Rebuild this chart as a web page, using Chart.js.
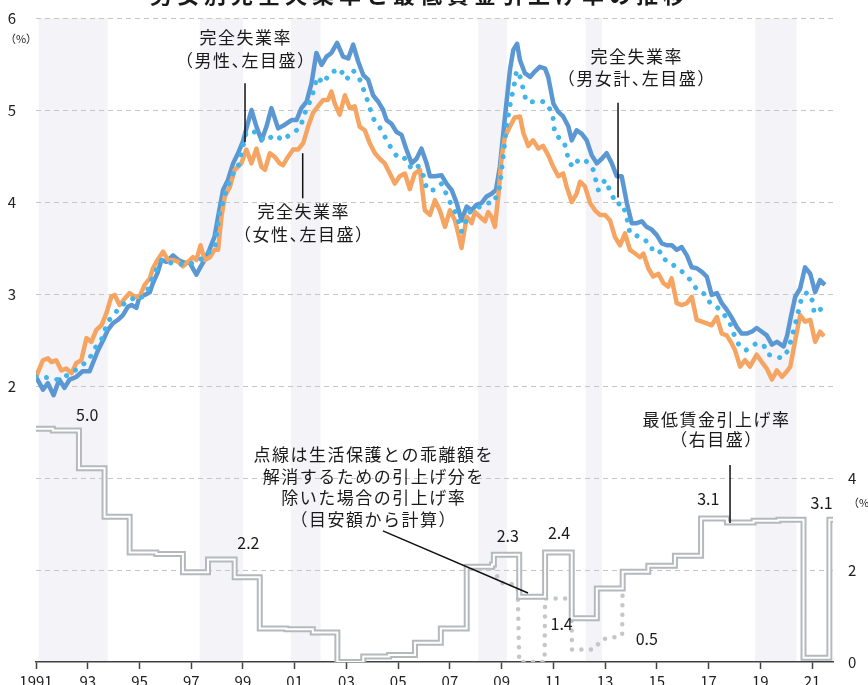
<!DOCTYPE html>
<html>
<head>
<meta charset="utf-8">
<script src="https://cdn.jsdelivr.net/npm/chart.js@4.4.0/dist/chart.umd.min.js"></script>
<style>
  html, body { margin: 0; padding: 0; background: #fff; }
</style>
</head>
<body>
<canvas id="myChart" width="868" height="685"></canvas>
<script>
// x axis ticks (odd years)
const tickYears = [1991, 1993, 1995, 1997, 1999, 2001, 2003, 2005, 2007, 2009, 2011, 2013, 2015, 2017, 2019, 2021];
const tickLabels = ['1991', '93', '95', '97', '99', '01', '03', '05', '07', '09', '11', '13', '15', '17', '19', '21'];
const leftTicks = [-1, 0, 1, 2, 3, 4, 5, 6];
const rightTicks = [0, 2, 4];

// 景気後退期 (start, end)
const recessions = [[1991.1, 1993.77], [1997.33, 1999.0], [2000.85, 2002.0], [2008.1, 2009.2], [2012.25, 2012.88], [2018.8, 2020.4]];

// 完全失業率 男性 [year, %]
const maleRate = [
  [1991.0,2.10],[1991.27,1.96],[1991.46,2.03],[1991.68,1.90],[1991.9,2.07],[1992.1,1.98],[1992.3,2.07],[1992.56,2.10],[1992.8,2.16],[1993.07,2.16],
  [1993.2,2.25],[1993.4,2.39],[1993.6,2.50],[1993.78,2.61],[1993.97,2.68],[1994.17,2.72],[1994.36,2.77],[1994.55,2.86],[1994.69,2.88],[1994.88,2.85],
  [1995.0,2.97],[1995.2,2.99],[1995.4,3.02],[1995.52,3.12],[1995.7,3.23],[1995.85,3.37],[1996.04,3.35],[1996.3,3.42],[1996.5,3.37],[1996.75,3.34],
  [1996.94,3.34],[1997.2,3.21],[1997.33,3.28],[1997.52,3.37],[1997.7,3.48],[1997.9,3.62],[1998.04,3.84],[1998.23,4.13],[1998.42,4.24],[1998.62,4.42],
  [1998.81,4.53],[1999.0,4.66],[1999.33,5.00],[1999.52,4.82],[1999.72,4.67],[1999.91,4.82],[2000.1,5.02],[2000.36,4.80],[2000.62,4.84],[2000.88,4.89],
  [2001.07,4.89],[2001.26,5.02],[2001.46,5.09],[2001.65,5.29],[2001.84,5.62],[2002.04,5.49],[2002.23,5.58],[2002.42,5.62],[2002.64,5.73],[2002.87,5.58],
  [2003.07,5.56],[2003.26,5.71],[2003.45,5.53],[2003.65,5.38],[2003.84,5.33],[2004.03,5.16],[2004.23,5.09],[2004.42,5.00],[2004.55,4.89],[2004.74,4.85],
  [2004.94,4.76],[2005.13,4.73],[2005.32,4.57],[2005.52,4.42],[2005.71,4.47],[2005.9,4.58],[2006.1,4.42],[2006.23,4.28],[2006.42,4.28],[2006.68,4.29],
  [2006.87,4.20],[2007.07,4.13],[2007.26,3.99],[2007.45,3.80],[2007.65,3.95],[2007.84,3.91],[2008.03,3.97],[2008.23,3.99],[2008.42,4.06],[2008.61,4.09],
  [2008.78,4.13],[2008.93,4.38],[2009.13,4.93],[2009.32,5.43],[2009.45,5.65],[2009.6,5.72],[2009.71,5.54],[2009.9,5.40],[2010.1,5.36],[2010.29,5.42],
  [2010.48,5.47],[2010.68,5.45],[2010.8,5.36],[2011.0,5.07],[2011.19,4.98],[2011.38,4.93],[2011.58,4.82],[2011.71,4.67],[2011.9,4.78],[2012.1,4.74],
  [2012.29,4.67],[2012.48,4.51],[2012.68,4.42],[2012.87,4.47],[2013.06,4.53],[2013.26,4.42],[2013.45,4.28],[2013.64,4.28],[2013.84,3.99],[2014.03,3.77],
  [2014.22,3.77],[2014.42,3.79],[2014.6,3.73],[2014.8,3.70],[2015.0,3.64],[2015.19,3.55],[2015.38,3.53],[2015.58,3.53],[2015.77,3.48],[2015.96,3.51],
  [2016.16,3.42],[2016.35,3.29],[2016.54,3.28],[2016.74,3.24],[2016.93,3.19],[2017.12,2.99],[2017.32,3.01],[2017.51,2.90],[2017.7,2.83],[2017.9,2.74],
  [2018.09,2.64],[2018.28,2.57],[2018.48,2.57],[2018.67,2.59],[2018.86,2.63],[2019.06,2.59],[2019.25,2.55],[2019.45,2.45],[2019.64,2.48],[2019.9,2.43],
  [2020.03,2.54],[2020.18,2.75],[2020.35,2.97],[2020.54,3.06],[2020.73,3.29],[2020.93,3.22],[2021.12,3.02],[2021.31,3.15],[2021.5,3.10]
];

// 完全失業率 女性
const femaleRate = [
  [1991.0,2.10],[1991.27,2.28],[1991.46,2.30],[1991.6,2.26],[1991.78,2.28],[1991.98,2.17],[1992.17,2.19],[1992.37,2.14],[1992.56,2.25],[1992.75,2.28],
  [1992.95,2.52],[1993.14,2.48],[1993.33,2.61],[1993.53,2.66],[1993.72,2.79],[1993.91,2.97],[1994.04,2.99],[1994.23,2.88],[1994.43,2.95],[1994.62,3.01],
  [1994.81,2.97],[1995.0,2.97],[1995.2,3.10],[1995.4,3.17],[1995.52,3.28],[1995.7,3.37],[1995.91,3.46],[1996.1,3.37],[1996.3,3.37],[1996.5,3.35],
  [1996.68,3.30],[1996.88,3.35],[1997.07,3.40],[1997.2,3.37],[1997.36,3.53],[1997.52,3.37],[1997.72,3.40],[1997.9,3.48],[1998.04,3.48],[1998.17,3.84],
  [1998.3,4.06],[1998.49,4.16],[1998.68,4.35],[1998.94,4.42],[1999.13,4.57],[1999.33,4.42],[1999.52,4.58],[1999.72,4.38],[1999.85,4.35],[2000.04,4.53],
  [2000.23,4.49],[2000.42,4.42],[2000.55,4.40],[2000.74,4.49],[2000.94,4.57],[2001.13,4.57],[2001.33,4.64],[2001.52,4.82],[2001.71,4.97],[2001.9,5.04],
  [2002.1,5.11],[2002.29,5.11],[2002.42,5.20],[2002.55,5.07],[2002.74,4.95],[2002.94,5.16],[2003.13,5.02],[2003.32,5.04],[2003.51,4.82],[2003.71,4.78],
  [2003.9,4.64],[2004.1,4.53],[2004.29,4.47],[2004.48,4.42],[2004.68,4.31],[2004.87,4.20],[2005.06,4.28],[2005.26,4.31],[2005.45,4.14],[2005.64,4.31],
  [2005.84,4.35],[2006.03,3.91],[2006.23,3.86],[2006.42,4.02],[2006.61,3.91],[2006.81,3.73],[2007.0,3.91],[2007.2,3.80],[2007.32,3.66],[2007.45,3.50],
  [2007.65,3.84],[2007.84,3.77],[2007.97,3.89],[2008.16,3.84],[2008.36,3.79],[2008.48,3.89],[2008.61,3.84],[2008.74,3.73],[2008.87,4.06],[2009.0,4.49],
  [2009.13,4.71],[2009.32,4.82],[2009.51,4.92],[2009.71,4.93],[2009.84,4.75],[2010.03,4.61],[2010.22,4.67],[2010.42,4.58],[2010.6,4.61],[2010.8,4.51],
  [2011.0,4.38],[2011.19,4.28],[2011.38,4.31],[2011.51,4.17],[2011.71,4.00],[2011.9,4.09],[2012.03,4.22],[2012.22,4.17],[2012.42,3.99],[2012.61,3.91],
  [2012.8,3.86],[2013.0,3.86],[2013.19,3.80],[2013.38,3.62],[2013.58,3.53],[2013.77,3.66],[2013.96,3.48],[2014.16,3.44],[2014.35,3.40],[2014.48,3.44],
  [2014.67,3.28],[2014.86,3.19],[2015.06,3.22],[2015.25,3.12],[2015.44,3.08],[2015.57,3.17],[2015.77,2.90],[2015.96,2.88],[2016.16,2.90],[2016.35,2.97],
  [2016.54,2.72],[2016.74,2.70],[2016.93,2.68],[2017.12,2.66],[2017.32,2.75],[2017.51,2.57],[2017.7,2.55],[2017.9,2.46],[2018.02,2.39],[2018.22,2.21],
  [2018.41,2.28],[2018.6,2.21],[2018.86,2.34],[2019.06,2.26],[2019.25,2.19],[2019.45,2.07],[2019.64,2.17],[2019.84,2.10],[2020.03,2.16],[2020.16,2.21],
  [2020.35,2.50],[2020.54,2.77],[2020.73,2.70],[2020.93,2.72],[2021.12,2.48],[2021.31,2.59],[2021.46,2.54]
];

// 完全失業率 男女計
const totalRate = [
  [1991.0,2.10],[1991.5,2.09],[1991.8,2.07],[1992.1,2.10],[1992.37,2.14],[1992.7,2.21],[1993.04,2.28],[1993.24,2.40],[1993.5,2.48],[1993.78,2.70],
  [1994.17,2.83],[1994.49,2.92],[1994.75,2.95],[1994.94,2.93],[1995.27,3.01],[1995.52,3.19],[1995.85,3.37],[1996.3,3.33],[1996.81,3.32],[1997.26,3.35],
  [1997.46,3.40],[1997.72,3.46],[1997.91,3.50],[1998.1,3.88],[1998.36,4.13],[1998.62,4.31],[1998.81,4.38],[1999.13,4.76],[1999.46,4.76],[1999.84,4.66],
  [2000.23,4.73],[2000.55,4.67],[2000.88,4.75],[2001.2,4.80],[2001.46,5.02],[2001.65,5.13],[2001.87,5.36],[2002.1,5.29],[2002.36,5.40],[2002.74,5.45],
  [2003.0,5.33],[2003.26,5.43],[2003.52,5.33],[2003.78,5.13],[2004.03,4.91],[2004.36,4.78],[2004.61,4.64],[2004.94,4.50],[2005.19,4.50],[2005.45,4.38],
  [2005.71,4.42],[2005.97,4.29],[2006.12,4.13],[2006.38,4.13],[2006.68,4.20],[2007.0,4.00],[2007.26,3.86],[2007.45,3.68],[2007.77,3.89],[2008.16,3.95],
  [2008.48,3.99],[2008.7,3.99],[2008.93,4.17],[2009.2,4.85],[2009.35,5.09],[2009.51,5.31],[2009.58,5.43],[2009.77,5.33],[2009.84,5.20],[2009.97,5.09],
  [2010.22,5.09],[2010.48,5.10],[2010.71,5.08],[2010.97,4.96],[2011.06,4.73],[2011.38,4.67],[2011.51,4.57],[2011.58,4.44],[2011.77,4.38],[2011.97,4.46],
  [2012.22,4.46],[2012.54,4.35],[2012.74,4.13],[2013.0,4.24],[2013.26,4.08],[2013.45,3.97],[2013.64,3.99],[2013.8,3.88],[2013.96,3.66],[2014.35,3.62],
  [2014.55,3.59],[2014.77,3.49],[2015.06,3.50],[2015.22,3.38],[2015.48,3.36],[2015.77,3.28],[2016.1,3.22],[2016.35,3.13],[2016.57,3.04],[2016.9,2.99],
  [2017.08,2.89],[2017.32,2.86],[2017.57,2.79],[2017.83,2.68],[2018.06,2.50],[2018.24,2.42],[2018.45,2.39],[2018.6,2.42],[2018.83,2.46],[2019.12,2.45],
  [2019.31,2.34],[2019.57,2.33],[2019.83,2.30],[2020.03,2.37],[2020.18,2.49],[2020.41,2.74],[2020.61,2.97],[2020.82,3.02],[2021.03,2.92],[2021.08,2.79],
  [2021.31,2.83],[2021.46,2.87]
];

// 最低賃金引上げ率 (step start, %)
const wageRate = [
  [1991.0,5.07],[1991.65,5.03],[1992.66,4.21],[1993.65,3.16],[1994.62,2.38],[1995.65,2.35],[1996.68,1.95],[1997.65,2.23],[1998.68,1.84],[1999.65,0.73],
  [2000.68,0.71],[2001.7,0.64],[2002.65,0.0],[2003.65,0.12],[2004.65,0.15],[2005.65,0.42],[2006.65,0.73],[2007.65,2.07],[2008.63,2.12],[2008.7,2.33],
  [2009.68,1.42],[2010.68,2.38],[2011.71,0.95],[2012.68,1.60],[2013.68,1.96],[2014.67,2.09],[2015.7,2.31],[2016.71,3.12],[2017.71,3.03],[2018.74,3.07],
  [2019.7,3.09],[2020.67,0.09],[2021.67,3.09],[2021.81,3.09]
];

// 生活保護との乖離解消分を除いた引上げ率 (点線)
const wageExclRate = [
  [2008.67,2.05],[2008.95,1.72],[2009.3,1.72],[2009.62,1.62],[2009.68,0.0],[2010.66,0.0],[2010.68,1.38],[2011.69,1.38],[2011.72,0.27],[2012.55,0.27],
  [2012.9,0.50],[2013.3,0.53],[2013.66,0.58],[2013.68,1.85]
];

const pts = arr => arr.map(p => ({ x: p[0], y: p[1] }));

// 注記 (x: 年, y: 軸の値)
const noteTexts = [
  { lines: ['完全失業率', '（男性、左目盛）'], x: 1999.08, ys: [5.79, 5.54], axis: 'y' },
  { lines: ['完全失業率', '（女性、左目盛）'], x: 2001.32, ys: [3.90, 3.65], axis: 'y' },
  { lines: ['完全失業率', '（男女計、左目盛）'], x: 2014.19, ys: [5.58, 5.34], axis: 'y' },
  { lines: ['最低賃金引上げ率', '（右目盛）'], x: 2017.28, ys: [5.28, 4.83], axis: 'y2' },
  { lines: ['点線は生活保護との乖離額を', '解消するための引上げ分を', '除いた場合の引上げ率', '（目安額から計算）'], x: 2004.03, ys: [4.52, 4.04, 3.57, 3.09], axis: 'y2' }
];
const pointerLines = [
  { axis: 'y', from: [1999.08, 5.29], to: [1999.08, 4.65] },
  { axis: 'y', from: [2001.31, 4.53], to: [2001.31, 4.04] },
  { axis: 'y', from: [2013.5, 5.08], to: [2013.5, 4.05] },
  { axis: 'y2', from: [2017.83, 4.28], to: [2017.83, 3.02] },
  { axis: 'y2', from: [2004.41, 2.85], to: [2010.02, 1.5] }
];
const valueLabels = [
  ['5.0', 1992.98, 5.37], ['2.2', 1999.21, 2.59], ['2.3', 2009.24, 2.74], ['2.4', 2011.22, 2.80],
  ['1.4', 2011.32, 0.83], ['0.5', 2014.61, 0.50], ['3.1', 2016.99, 3.54], ['3.1', 2021.37, 3.46]
];

const FONT = "'Noto Sans CJK JP', 'Noto Sans', sans-serif";

// CJK text with narrow punctuation, centered at cx
function drawCJK(ctx, str, cx, cy, size, gap) {
  ctx.font = size + 'px ' + FONT;
  ctx.textAlign = 'left';
  ctx.textBaseline = 'middle';
  const chars = [...str];
  const narrow = '（）、';
  const adv = chars.map(ch => narrow.includes(ch) ? size * 0.5 : ctx.measureText(ch).width);
  const total = adv.reduce((a, b) => a + b, 0) + gap * (chars.length - 1);
  let x = cx - total / 2;
  chars.forEach((ch, i) => {
    ctx.fillText(ch, ch === '（' ? x - size * 0.5 : x, cy);
    x += adv[i] + gap;
  });
}

const bandsPlugin = {
  id: 'bands',
  beforeDraw(chart) {
    const { ctx, chartArea, scales } = chart;
    ctx.save();
    ctx.fillStyle = '#f3f3f8';
    recessions.forEach(([s, e]) => {
      const x1 = scales.x.getPixelForValue(s);
      const x2 = scales.x.getPixelForValue(e);
      ctx.fillRect(x1, chartArea.top, x2 - x1, chartArea.bottom - chartArea.top);
    });
    ctx.restore();
  }
};

const notesPlugin = {
  id: 'notes',
  afterDraw(chart) {
    const { ctx, chartArea, scales } = chart;
    const X = v => scales.x.getPixelForValue(v);
    ctx.save();
    ctx.fillStyle = '#1a1a1a';

    // title (only its lower edge is inside the picture)
    ctx.font = 'bold 22px ' + FONT;
    ctx.letterSpacing = '5px';
    ctx.textAlign = 'center';
    ctx.textBaseline = 'alphabetic';
    ctx.fillText('男女別完全失業率と最低賃金引上げ率の推移', 420, 3);
    ctx.letterSpacing = '0px';

    // unit labels
    ctx.font = '11px ' + FONT;
    ctx.textAlign = 'center';
    ctx.textBaseline = 'middle';
    ctx.fillText('（%）', 21, chartArea.top + 21);
    ctx.textAlign = 'left';
    ctx.fillText('（%）', chartArea.right + 15, scales.y2.getPixelForValue(3.46));

    ctx.strokeStyle = '#111';
    ctx.lineWidth = 1.5;
    pointerLines.forEach(p => {
      const s = scales[p.axis];
      ctx.beginPath();
      ctx.moveTo(X(p.from[0]), s.getPixelForValue(p.from[1]));
      ctx.lineTo(X(p.to[0]), s.getPixelForValue(p.to[1]));
      ctx.stroke();
    });

    noteTexts.forEach(n => {
      n.lines.forEach((line, i) => {
        drawCJK(ctx, line, X(n.x), scales[n.axis].getPixelForValue(n.ys[i]), 17, 1.5);
      });
    });

    ctx.font = '16px ' + FONT;
    ctx.textAlign = 'center';
    ctx.textBaseline = 'middle';
    valueLabels.forEach(([t, x, y]) => {
      ctx.fillText(t, X(x), scales.y2.getPixelForValue(y));
    });
    ctx.restore();
  }
};

// keep the tick padding from pushing the plot area inwards
const fitY = width => s => {
  s.width = width;
  s.paddingTop = 0;
  s.paddingBottom = 0;
};

Chart.defaults.font.family = FONT;
Chart.defaults.font.size = 15;
Chart.defaults.color = '#222';

new Chart(document.getElementById('myChart'), {
  type: 'line',
  data: {
    datasets: [
      {
        label: '完全失業率（男女計）',
        data: pts(totalRate),
        yAxisID: 'y',
        borderColor: '#41b4ea',
        borderWidth: 5,
        borderDash: [0.01, 10.5],
        borderCapStyle: 'round',
        pointRadius: 0
      },
      {
        label: '完全失業率（女性）',
        data: pts(femaleRate),
        yAxisID: 'y',
        borderColor: '#f6a462',
        borderWidth: 4.5,
        borderJoinStyle: 'round',
        pointRadius: 0
      },
      {
        label: '完全失業率（男性）',
        data: pts(maleRate),
        yAxisID: 'y',
        borderColor: '#5b97d2',
        borderWidth: 4.5,
        borderJoinStyle: 'round',
        pointRadius: 0
      },
      {
        label: '最低賃金引上げ率',
        data: pts(wageRate),
        yAxisID: 'y2',
        stepped: true,
        borderColor: '#ffffff',
        borderWidth: 2,
        pointRadius: 0
      },
      {
        label: '最低賃金引上げ率（縁）',
        data: pts(wageRate),
        yAxisID: 'y2',
        stepped: true,
        borderColor: '#b5b9bd',
        borderWidth: 6,
        pointRadius: 0
      },
      {
        label: '乖離解消分を除く',
        data: pts(wageExclRate),
        yAxisID: 'y2',
        borderColor: '#c4c6c8',
        borderWidth: 4.5,
        borderDash: [0.01, 9.5],
        borderCapStyle: 'round',
        pointRadius: 0
      }
    ]
  },
  options: {
    responsive: false,
    animation: false,
    devicePixelRatio: 1,
    layout: { padding: { top: 18, right: 0, bottom: 0, left: 0 } },
    plugins: { legend: { display: false }, tooltip: { enabled: false } },
    scales: {
      x: {
        type: 'linear',
        min: 1991,
        max: 2021.81,
        afterBuildTicks: s => { s.ticks = tickYears.map(v => ({ value: v })); },
        afterFit: s => { s.height = 23; s.paddingLeft = 0; s.paddingRight = 0; },
        ticks: {
          callback: (v, i) => tickLabels[i],
          autoSkip: false,
          maxRotation: 0,
          padding: 3
        },
        grid: { display: true, drawOnChartArea: false, drawTicks: true, tickLength: 7, tickColor: '#404040', tickWidth: 1.5 },
        border: { display: true, color: '#404040', width: 1.5 }
      },
      y: {
        position: 'left',
        min: -1,
        max: 6,
        afterBuildTicks: s => { s.ticks = leftTicks.map(v => ({ value: v })); },
        afterFit: fitY(36),
        ticks: { callback: v => (v >= 2 ? String(v) : ''), padding: 20 },
        grid: {
          drawTicks: false,
          lineWidth: 1,
          color: c => (c.tick && c.tick.value >= 0 ? '#c6c6c6' : 'rgba(0,0,0,0)')
        },
        border: { display: false, dash: [5, 4] }
      },
      y2: {
        position: 'right',
        min: 0,
        max: 14,
        afterBuildTicks: s => { s.ticks = rightTicks.map(v => ({ value: v })); },
        afterFit: fitY(35),
        ticks: { padding: 15 },
        grid: { display: false, drawTicks: false },
        border: { display: false }
      }
    }
  },
  plugins: [bandsPlugin, notesPlugin]
});
</script>
</body>
</html>
